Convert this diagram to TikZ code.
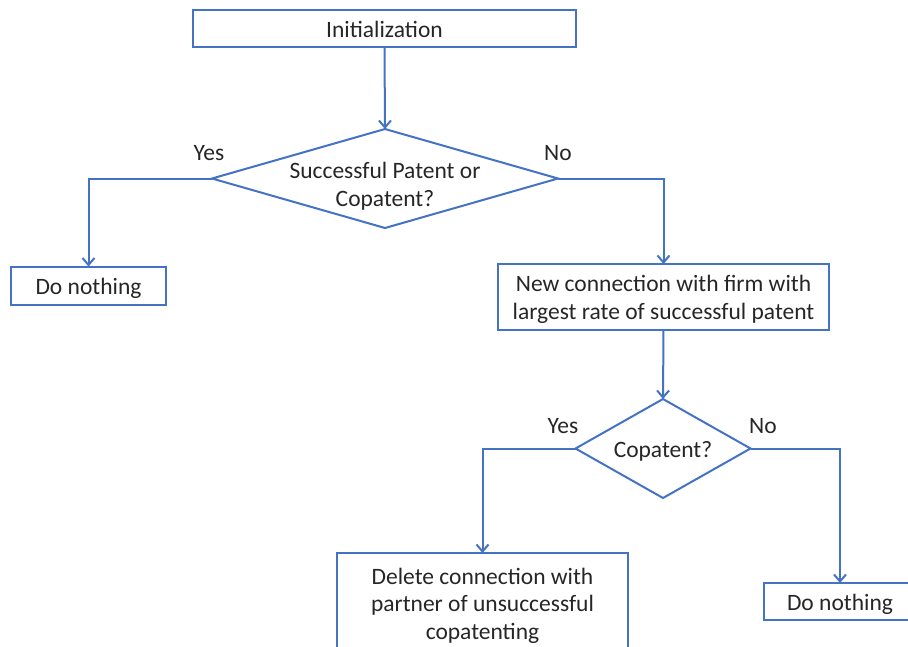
\documentclass[tikz,border=0pt]{standalone}
\usepackage{fontspec}
\setmainfont{Carlito}
\usetikzlibrary{shapes.geometric,arrows.meta}
\definecolor{lineblue}{HTML}{4472C4}
\definecolor{txt}{HTML}{262626}
\newcommand\lowered[1]{\raisebox{-3pt}[\height][\depth]{\begin{tabular}{@{}c@{}}#1\end{tabular}}}
\begin{document}
\begin{tikzpicture}[x=1pt,y=-1pt,
  every node/.style={text=txt,font=\fontsize{23.5}{27.5}\selectfont},
  box/.style={draw=lineblue,line width=2pt,rectangle,inner sep=0pt,outer sep=0pt,align=center},
  decision/.style={draw=lineblue,line width=2pt,diamond,inner sep=0pt,outer sep=0pt},
  conn/.style={draw=lineblue,line width=2pt,-{Straight Barb[length=7pt,width=12pt]}},
  lbl/.style={inner sep=0pt}]
\useasboundingbox (0,0) rectangle (908,646);
\clip (0,0) rectangle (908,646);
\node[box,minimum width=383,minimum height=37] (init) at (384.5,28.5) {\lowered{Initialization}};
\node[decision,minimum width=346,minimum height=99] (d1) at (385,178.5) {};
\node[lbl,align=center] (d1t) at (385,186) {Successful Patent or\\Copatent?};
\node[box,minimum width=155,minimum height=38] (dn1) at (88.5,285.5) {\lowered{Do nothing}};
\node[box,minimum width=331,minimum height=66] (new) at (663.5,297) {\lowered{New connection with firm with\\largest rate of successful patent}};
\node[decision,minimum width=175,minimum height=99] (d2) at (663,448.5) {};
\node[lbl] (d2t) at (663,451) {Copatent?};
\node[box,minimum width=291,minimum height=100] (del) at (482.5,603) {\lowered{Delete connection with\\partner of unsuccessful\\copatenting}};
\node[box,minimum width=152,minimum height=37] (dn2) at (840,601.5) {\lowered{Do nothing}};
\node[lbl] (y1) at (209,153) {Yes};
\node[lbl] (n1) at (558,153) {No};
\node[lbl] (y2) at (563,426) {Yes};
\node[lbl] (n2) at (763,426) {No};
\draw[conn] (init.south) -- (d1.north);
\draw[conn] (d1.west) -| (dn1.north);
\draw[conn] (d1.east) -| (new.north);
\draw[conn] (new.south) -- (d2.north);
\draw[conn] (d2.west) -| (del.north);
\draw[conn] (d2.east) -| (dn2.north);
\end{tikzpicture}
\end{document}
